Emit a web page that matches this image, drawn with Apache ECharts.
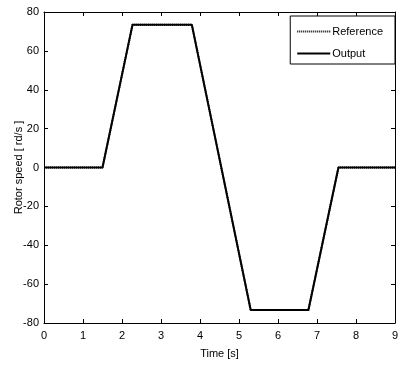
<!DOCTYPE html>
<html>
<head>
<meta charset="utf-8">
<script src="https://cdn.jsdelivr.net/npm/echarts@6/dist/echarts.min.js"></script>
<style>
html,body{margin:0;padding:0;background:#fff;}
#c{width:400px;height:365px;}
</style>
</head>
<body>
<div id="c"></div>
<script>
// Data
var timePoints = [0, 1.5, 2.27, 3.79, 5.3, 6.78, 7.55, 9];
var referenceSpeed = [0, 0, 73.5, 73.5, -73.3, -73.3, 0, 0];
var outputSpeed = [0, 0, 73.5, 73.5, -73.3, -73.3, 0, 0];
var seriesNames = ['Reference', 'Output'];
var xTitle = 'Time [s]';
var yTitle = 'Rotor speed [ rd/s ]';

function pairs(xs, ys) { return xs.map(function (x, i) { return [x, ys[i]]; }); }

// legend icons: dotted line and solid line (33 x 2)
var dotted = 'path://';
for (var k = 0; k < 33; k += 2) { dotted += 'M' + k + ',0h1v2h-1z'; }
var solid = 'path://M0,0h33v2h-33z';

var FONT = '"Liberation Sans Narrow", "Liberation Sans", Arial, sans-serif';
var chart = echarts.init(document.getElementById('c'), null, { renderer: 'canvas' });
var axisBase = {
  type: 'value',
  axisLine: { show: true, onZero: false, lineStyle: { color: '#000', width: 1 } },
  axisTick: { show: true, inside: true, length: 4, lineStyle: { color: '#000' } },
  splitLine: { show: false },
  axisLabel: { color: '#000', fontFamily: FONT, fontSize: 11 }
};
chart.setOption({
  animation: false,
  backgroundColor: '#fff',
  grid: { left: 44, right: 5, top: 12, bottom: 42, containLabel: false, outerBoundsMode: 'none' },
  legend: {
    data: [
      { name: seriesNames[0], icon: dotted },
      { name: seriesNames[1], icon: solid }
    ],
    orient: 'vertical',
    right: 5,
    top: 16,
    itemWidth: 33,
    itemHeight: 2,
    itemGap: 11,
    padding: [10, 12, 5, 7],
    borderColor: '#000',
    borderWidth: 1,
    backgroundColor: '#fff',
    itemStyle: { color: '#000', borderWidth: 0 },
    textStyle: { color: '#000', fontFamily: FONT, fontSize: 11, padding: [0, 0, 0, -3] }
  },
  xAxis: [
    Object.assign({}, axisBase, {
      min: 0, max: 9, interval: 1, position: 'bottom',
      name: xTitle, nameLocation: 'middle', nameGap: 25, nameMoveOverlap: false,
      nameTextStyle: { color: '#000', fontFamily: FONT, fontSize: 11 },
      axisLabel: Object.assign({}, axisBase.axisLabel, { margin: 7 })
    }),
    Object.assign({}, axisBase, {
      min: 0, max: 9, interval: 1, position: 'top', axisLabel: { show: false }
    })
  ],
  yAxis: [
    Object.assign({}, axisBase, {
      min: -80, max: 80, interval: 20, position: 'left',
      name: yTitle, nameLocation: 'middle', nameGap: 20, nameMoveOverlap: false,
      nameTextStyle: { color: '#000', fontFamily: FONT, fontSize: 11 },
      axisLabel: Object.assign({}, axisBase.axisLabel, { margin: 5 })
    }),
    Object.assign({}, axisBase, {
      min: -80, max: 80, interval: 20, position: 'right', axisLabel: { show: false }
    })
  ],
  series: [
    {
      name: seriesNames[0], type: 'line', data: pairs(timePoints, referenceSpeed),
      showSymbol: false, symbol: 'none', z: 3,
      lineStyle: { color: '#000', width: 2, type: [1, 1] }, itemStyle: { color: '#000' }
    },
    {
      name: seriesNames[1], type: 'line', data: pairs(timePoints, outputSpeed),
      showSymbol: false, symbol: 'none', z: 4,
      lineStyle: { color: '#000', width: 2, join: 'round' }, itemStyle: { color: '#000' }
    }
  ]
});
</script>
</body>
</html>
